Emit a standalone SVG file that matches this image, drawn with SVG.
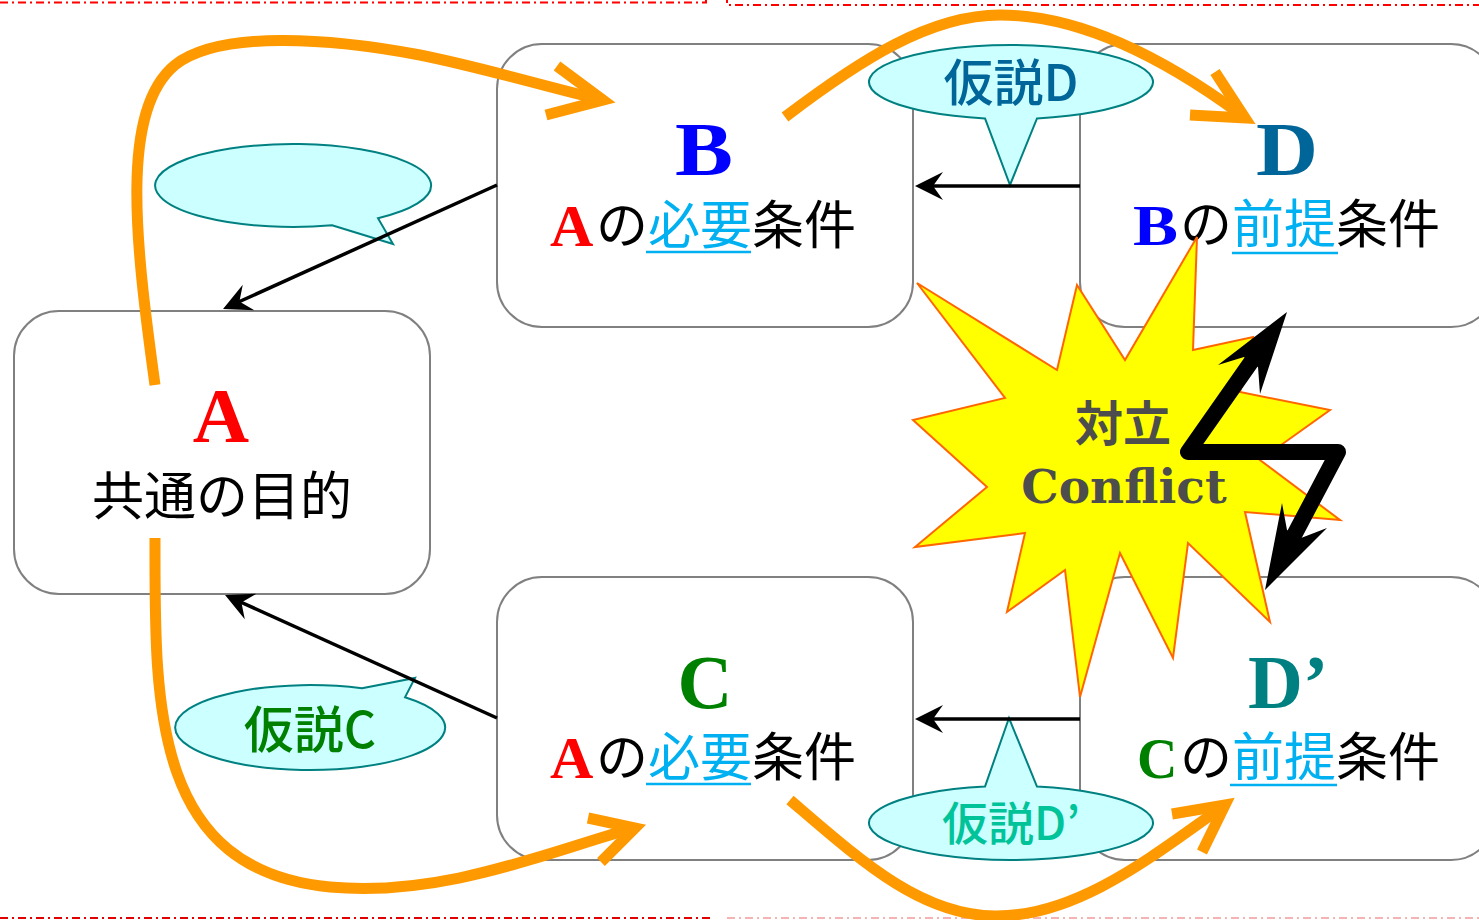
<svg xmlns="http://www.w3.org/2000/svg" width="1479" height="920" viewBox="0 0 1479 920">
<style>
.frame{fill:none;stroke-width:2;stroke-dasharray:8 4 2 4}
.node{fill:#fff;stroke:#808080;stroke-width:2}
.big{font-family:"Liberation Serif",serif;font-weight:bold}
.jp{font-family:"Noto Sans CJK JP",sans-serif;font-size:52px;fill:#000}
.callout{fill:#ccffff;stroke:#008080;stroke-width:2}
.ctext{font-family:"Noto Sans CJK JP",sans-serif;text-anchor:middle;font-weight:500}
.blk{fill:none;stroke:#000;stroke-width:3.5;marker-end:url(#barb)}
.org{fill:none;stroke:#ff9900;stroke-width:11}
.chev{fill:none;stroke:#ff9900;stroke-width:11;stroke-linejoin:miter;stroke-linecap:butt}
.ul{stroke:#00b0f0;stroke-width:2.5}
</style>
<defs>
<marker id="barb" viewBox="0 0 30 30" refX="24" refY="15" markerWidth="30" markerHeight="30" markerUnits="userSpaceOnUse" orient="auto">
<path d="M30,15 L2,1 L12,15 L2,29 Z" fill="#000"/>
</marker>
</defs>
<rect width="1479" height="920" fill="#fff"/>
<g id="frame">
<path class="frame" stroke="#ff0000" d="M0,2.5 H706 V-5"/>
<path class="frame" stroke="#ff0000" d="M727,-5 V5 H1479"/>
<path class="frame" stroke="#e00000" d="M0,918 H710"/>
<path class="frame" stroke="#f4b4b4" d="M727,918 H1479"/>
</g>
<g id="nodeA">
<rect class="node" x="14" y="311" width="416" height="283" rx="45"/>
<text class="big" x="221" y="442" font-size="78" fill="#ff0000" text-anchor="middle">A</text>
<text class="jp" x="92" y="515">共通の目的</text>
</g>
<g id="nodeB">
<rect class="node" x="497" y="44" width="416" height="283" rx="45"/>
<text class="big" x="675" y="175" font-size="76" fill="#0000ff" textLength="58" lengthAdjust="spacingAndGlyphs">B</text>
<text class="big" x="550" y="246" font-size="60" fill="#ff0000">A</text>
<text class="jp" x="596" y="244">の<tspan fill="#00b0f0">必要</tspan>条件</text>
<line class="ul" x1="646" y1="252" x2="751" y2="252"/>
</g>
<g id="nodeC">
<rect class="node" x="497" y="577" width="416" height="283" rx="45"/>
<text class="big" x="705" y="708" font-size="76" fill="#008000" text-anchor="middle">C</text>
<text class="big" x="550" y="778" font-size="60" fill="#ff0000">A</text>
<text class="jp" x="596" y="776">の<tspan fill="#00b0f0">必要</tspan>条件</text>
<line class="ul" x1="646" y1="784" x2="751" y2="784"/>
</g>
<g id="nodeD">
<rect class="node" x="1080" y="44" width="416" height="283" rx="45"/>
<text class="big" x="1256" y="175" font-size="76" fill="#006699" textLength="62" lengthAdjust="spacingAndGlyphs">D</text>
<text class="big" x="1133" y="245" font-size="56" fill="#0000ff" textLength="45" lengthAdjust="spacingAndGlyphs">B</text>
<text class="jp" x="1180" y="243">の<tspan fill="#00b0f0">前提</tspan>条件</text>
<line class="ul" x1="1232" y1="253" x2="1338" y2="253"/>
</g>
<g id="nodeD2">
<rect class="node" x="1080" y="577" width="416" height="283" rx="45"/>
<text class="big" x="1248" y="708" font-size="76" fill="#008080">D’</text>
<text class="big" x="1137" y="778" font-size="56" fill="#008000">C</text>
<text class="jp" x="1180" y="776">の<tspan fill="#00b0f0">前提</tspan>条件</text>
<line class="ul" x1="1230" y1="785" x2="1337" y2="785"/>
</g>
<g id="calloutEmpty">
<path class="callout" d="M332,225.3 L393,244 L378,218.2 A138 41.5 0 1 0 332,225.3 Z"/>
</g>
<g id="calloutC">
<path class="callout" d="M362,688.3 L415,678 L405,697.3 A135 42.5 0 1 1 362,688.3 Z"/>
<text class="ctext" x="310" y="748" font-size="50" fill="#008000">仮説C</text>
</g>
<g id="calloutD">
<path class="callout" d="M985,118.4 L1010,185 L1037,118.4 A142 37 0 1 0 985,118.4 Z"/>
<text class="ctext" x="1011" y="101" font-size="50" fill="#00669a">仮説D</text>
</g>
<g id="calloutD2">
<path class="callout" d="M985,786.6 L1009,718 L1037,786.6 A142 37 0 1 1 985,786.6 Z"/>
<text class="ctext" x="1011" y="840" font-size="46" fill="#00c39a">仮説D’</text>
</g>
<g id="connectors">
<line class="blk" x1="497" y1="185" x2="228.5" y2="306.5"/>
<line class="blk" x1="497" y1="718" x2="230.5" y2="597.5"/>
<line class="blk" x1="1080" y1="186" x2="921" y2="186"/>
<line class="blk" x1="1080" y1="719" x2="921" y2="719"/>
</g>
<g id="conflict">
<polygon fill="#ffff00" stroke="#ff6600" stroke-width="2" points="917,283 1057,370 1077,285 1125,360 1197,237 1193,350 1253,337 1240,392 1330,410 1260,460 1340,520 1245,512 1270,622 1188,543 1173,658 1120,553 1080,697 1065,570 1007,612 1025,533 915,547 987,487 913,420 1005,398"/>
<text x="1123" y="441" font-family="'Noto Sans CJK JP',sans-serif" font-weight="bold" font-size="48" fill="#4d4d4d" text-anchor="middle">対立</text>
<text x="1124" y="503" font-family="'DejaVu Serif',serif" font-weight="bold" font-size="47" fill="#4d4d4d" text-anchor="middle">Conflict</text>
</g>
<g id="bolt">
<polyline points="1256,355 1188,452 1338,452 1290,543" fill="none" stroke="#000" stroke-width="16" stroke-linejoin="round"/>
<polygon points="1287,312 1218,365 1244,357 1258,367 1260,394" fill="#000"/>
<polygon points="1265,590 1282,503 1287,530 1301,538 1327,528" fill="#000"/>
</g>
<g id="orangeArrows">
<path class="org" d="M155,385 C135,240 120,110 175,65 C220,30 330,38 420,55 C480,67 540,85 598,99"/>
<polyline class="chev" points="557,66 603,100 546,115"/>
<path class="org" d="M785,117 C860,60 930,15 1000,15 C1090,15 1180,70 1240,114"/>
<polyline class="chev" points="1215,72 1245,118 1190,115"/>
<path class="org" d="M155,538 C155,700 150,870 330,887 C440,897 540,855 630,829"/>
<polyline class="chev" points="588,818 635,828 601,862"/>
<path class="org" d="M790,800 C860,860 920,915 995,916 C1080,917 1160,850 1221,808"/>
<polyline class="chev" points="1172,814 1225,805 1202,852"/>
</g>
</svg>
